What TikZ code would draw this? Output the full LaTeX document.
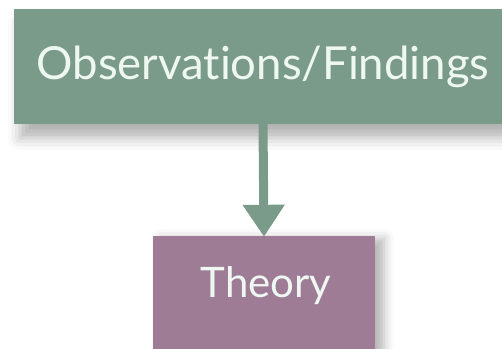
\documentclass[tikz,border=0pt]{standalone}
\usepackage{fontspec}
\setmainfont[Ligatures={NoCommon,NoDiscretionary,NoRare}]{Lato}
\usetikzlibrary{arrows.meta,shadows.blur}
\definecolor{sage}{HTML}{7B9B8A}
\definecolor{mauve}{HTML}{9E7C96}
\definecolor{boxtext}{HTML}{EEF7F1}
\tikzset{
  card/.style={draw=none, inner sep=0pt, text=boxtext},
  link/.style={sage, line width=9pt,
    -{Triangle[width=40pt,length=32pt]}}
}
\begin{document}
\begin{tikzpicture}[x=1pt,y=1pt]
  \useasboundingbox (0,0) rectangle (502,-348);
  \clip (0,0) rectangle (502,-348);
  % upper box, running past the right edge
  \node[card, fill=sage, minimum width=498pt, minimum height=115pt,
        font=\fontsize{45.5}{52}\selectfont,
        blur shadow={shadow xshift=6pt, shadow yshift=-14pt,
          shadow blur radius=12pt, shadow opacity=30}]
    (obs) at (263,-66.5) {Observations/Findings};
  % lower box, running past the bottom edge
  \node[card, fill=mauve, minimum width=222pt, minimum height=140pt,
        blur shadow={shadow xshift=9pt, shadow yshift=-3pt,
          shadow blur radius=10pt, shadow opacity=30}]
    (theory) at (264,-306) {};
  \node[card, anchor=base, font=\fontsize{42}{48}\selectfont]
    (theorylabel) at (266,-297) {Theory};
  % connector
  \draw[link] (obs.south) -- ([yshift=-1pt]theory.north);
\end{tikzpicture}
\end{document}
